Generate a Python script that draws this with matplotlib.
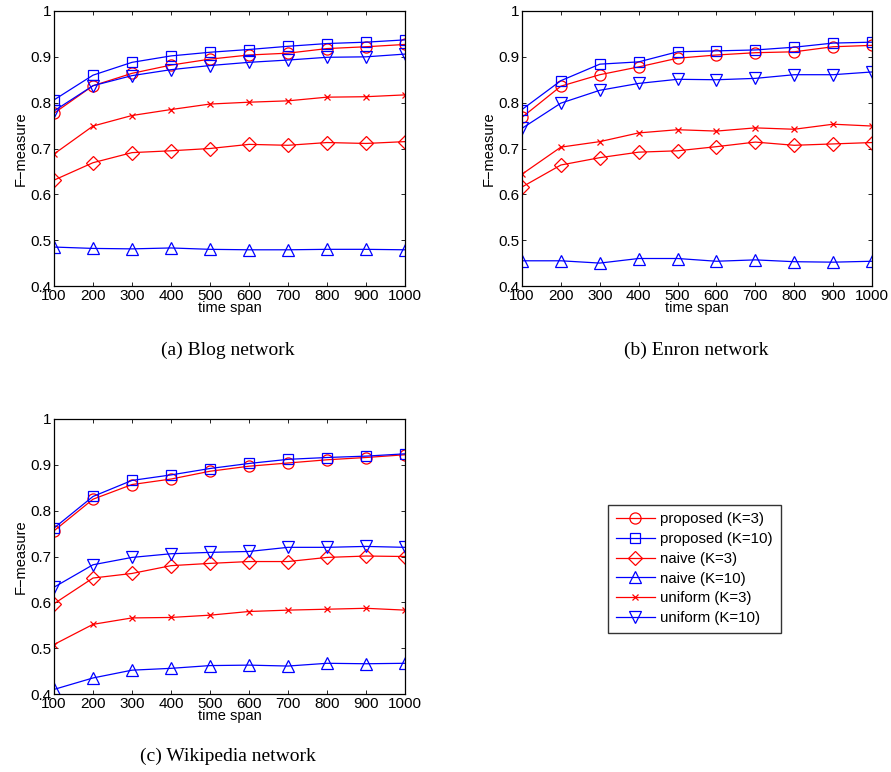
import matplotlib
matplotlib.use("Agg")
import matplotlib.pyplot as plt

plt.rcParams['font.family'] = ['Liberation Sans', 'DejaVu Sans']

time_span = [100, 200, 300, 400, 500, 600, 700, 800, 900, 1000]
series_labels = ['proposed (K=3)', 'proposed (K=10)', 'naive (K=3)',
                 'naive (K=10)', 'uniform (K=3)', 'uniform (K=10)']
panel_titles = ['(a) Blog network', '(b) Enron network', '(c) Wikipedia network']

# (a) Blog network
blog_prop3 = [0.777, 0.837, 0.864, 0.882, 0.895, 0.904, 0.908, 0.918, 0.922, 0.927]
blog_prop10 = [0.806, 0.860, 0.888, 0.902, 0.910, 0.916, 0.923, 0.929, 0.932, 0.937]
blog_naive3 = [0.631, 0.669, 0.691, 0.695, 0.700, 0.709, 0.707, 0.713, 0.711, 0.715]
blog_naive10 = [0.485, 0.482, 0.481, 0.483, 0.480, 0.479, 0.479, 0.480, 0.480, 0.479]
blog_unif3 = [0.688, 0.749, 0.772, 0.785, 0.797, 0.801, 0.804, 0.812, 0.813, 0.817]
blog_unif10 = [0.782, 0.837, 0.859, 0.872, 0.881, 0.888, 0.893, 0.899, 0.900, 0.906]

# (b) Enron network
enron_prop3 = [0.768, 0.836, 0.861, 0.878, 0.897, 0.904, 0.909, 0.911, 0.922, 0.925]
enron_prop10 = [0.785, 0.848, 0.884, 0.889, 0.911, 0.913, 0.915, 0.921, 0.930, 0.932]
enron_naive3 = [0.616, 0.664, 0.680, 0.692, 0.695, 0.704, 0.714, 0.707, 0.710, 0.713]
enron_naive10 = [0.455, 0.455, 0.450, 0.460, 0.460, 0.454, 0.457, 0.453, 0.452, 0.454]
enron_unif3 = [0.644, 0.703, 0.715, 0.734, 0.741, 0.738, 0.745, 0.742, 0.753, 0.749]
enron_unif10 = [0.744, 0.799, 0.827, 0.842, 0.851, 0.850, 0.853, 0.861, 0.861, 0.867]

# (c) Wikipedia network
wiki_prop3 = [0.756, 0.825, 0.857, 0.869, 0.886, 0.897, 0.904, 0.911, 0.916, 0.922]
wiki_prop10 = [0.762, 0.831, 0.866, 0.878, 0.892, 0.903, 0.912, 0.916, 0.919, 0.924]
wiki_naive3 = [0.597, 0.653, 0.663, 0.680, 0.685, 0.689, 0.689, 0.698, 0.701, 0.700]
wiki_naive10 = [0.410, 0.435, 0.452, 0.456, 0.462, 0.463, 0.461, 0.467, 0.466, 0.467]
wiki_unif3 = [0.508, 0.552, 0.566, 0.567, 0.572, 0.580, 0.583, 0.585, 0.587, 0.583]
wiki_unif10 = [0.633, 0.682, 0.698, 0.706, 0.709, 0.711, 0.720, 0.720, 0.722, 0.720]

panels = [
    [blog_prop3, blog_prop10, blog_naive3, blog_naive10, blog_unif3, blog_unif10],
    [enron_prop3, enron_prop10, enron_naive3, enron_naive10, enron_unif3, enron_unif10],
    [wiki_prop3, wiki_prop10, wiki_naive3, wiki_naive10, wiki_unif3, wiki_unif10],
]

colors = ['red', 'blue', 'red', 'blue', 'red', 'blue']
markers = ['o', 's', 'D', '^', 'x', 'v']
msizes = [8, 6.5, 7, 8.5, 5, 8.5]

W, H = 891, 772
fig = plt.figure(figsize=(W / 100, H / 100), dpi=100)

# axes boxes in pixels: left, top, right, bottom
boxes = [(54, 11, 405, 286), (522, 11, 872, 286), (54, 419, 405, 694)]
caption_pos = [(228, 350), (696, 350), (228, 756)]

handles = []
for i, (data, box) in enumerate(zip(panels, boxes)):
    l, t, r, b = box
    ax = fig.add_axes([l / W, 1 - b / H, (r - l) / W, (b - t) / H])
    hs = []
    for ys, c, m, ms in zip(data, colors, markers, msizes):
        h, = ax.plot(time_span, ys, color=c, marker=m, markersize=ms,
                     markerfacecolor='none', markeredgecolor=c,
                     markeredgewidth=0.9, linewidth=0.9)
        hs.append(h)
    if i == 0:
        handles = hs
    ax.set_xlim(100, 1000)
    ax.set_ylim(0.4, 1.0)
    ax.set_xticks(time_span)
    ax.set_yticks([0.4, 0.5, 0.6, 0.7, 0.8, 0.9, 1.0])
    ax.set_yticklabels(['0.4', '0.5', '0.6', '0.7', '0.8', '0.9', '1'])
    ax.tick_params(direction='in', top=True, right=True, labelsize=11,
                   length=3, width=0.6, pad=2)
    for sp in ax.spines.values():
        sp.set_linewidth(0.9)
    ax.set_xlabel('time span', fontsize=10.5, labelpad=-1)
    ax.set_ylabel('F\u2212measure', fontsize=10.5, labelpad=2)
    cx, cy = caption_pos[i]
    fig.text(cx / W, 1 - cy / H, panel_titles[i], ha='center', va='center',
             fontsize=14, family='Liberation Serif')

leg = fig.legend(handles, series_labels, loc='upper left',
                 bbox_to_anchor=(608 / W, 1 - 505 / H), fontsize=10.8,
                 frameon=True, fancybox=False, handlelength=2.6,
                 borderpad=0.5, labelspacing=0.38, handletextpad=0.4,
                 borderaxespad=0)
leg.get_frame().set_edgecolor('black')
leg.get_frame().set_linewidth(1.0)

fig.savefig('out.png', dpi=100)
